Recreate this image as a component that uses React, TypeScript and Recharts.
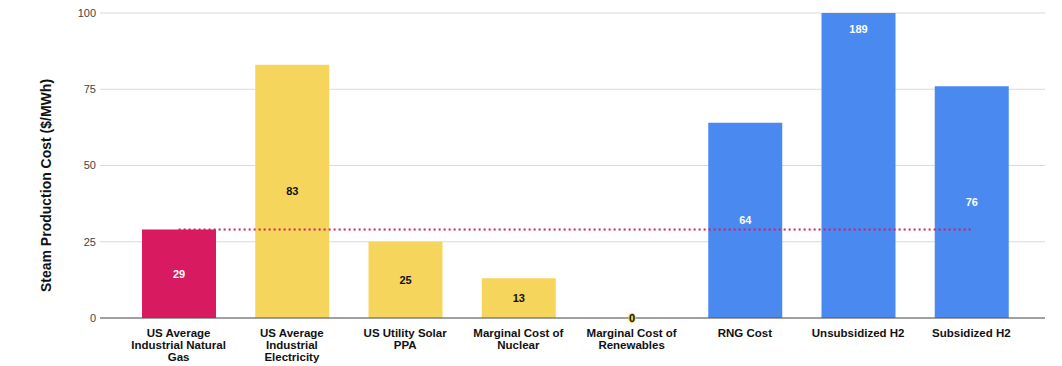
import React from 'react';
import {
  BarChart,
  Bar,
  XAxis,
  YAxis,
  CartesianGrid,
  ReferenceLine,
  LabelList,
  Cell,
} from 'recharts';

const categories = [
  'US Average Industrial Natural Gas',
  'US Average Industrial Electricity',
  'US Utility Solar PPA',
  'Marginal Cost of Nuclear',
  'Marginal Cost of Renewables',
  'RNG Cost',
  'Unsubsidized H2',
  'Subsidized H2',
];

// wrapped tick text, as laid out in the original
const tickLines = [
  ['US Average', 'Industrial Natural', 'Gas'],
  ['US Average', 'Industrial', 'Electricity'],
  ['US Utility Solar', 'PPA'],
  ['Marginal Cost of', 'Nuclear'],
  ['Marginal Cost of', 'Renewables'],
  ['RNG Cost'],
  ['Unsubsidized H2'],
  ['Subsidized H2'],
];

const costs = [29, 83, 25, 13, 0, 64, 189, 76];
const barColors = ['#d81b60', '#f6d55c', '#f6d55c', '#f6d55c', '#f6d55c', '#4a89f0', '#4a89f0', '#4a89f0'];
const labelColors = ['#fff', '#111', '#111', '#111', '#111', '#fff', '#fff', '#fff'];

const yTicks = [0, 25, 50, 75, 100];
const yMax = 100;
const naturalGasLevel = 29;

const data = categories.map((name, i) => ({
  name,
  cost: costs[i],
  shown: Math.min(costs[i], yMax),
}));

const FONT = 'Arial, "Liberation Sans", Helvetica, sans-serif';

const CategoryTick = (props: any) => {
  const { x, y, index } = props;
  const lines = tickLines[index] || [];
  return (
    <text x={x} y={y + 11} textAnchor="middle" fontFamily={FONT} fontSize={11.5} fontWeight="bold" fill="#111">
      {lines.map((l, i) => (
        <tspan key={i} x={x} dy={i === 0 ? 0 : 12}>
          {l}
        </tspan>
      ))}
    </text>
  );
};

const ValueLabel = (props: any) => {
  const { x, y, width, height, value } = props;
  const idx = costs.indexOf(Number(value));
  const overflow = costs[idx] > yMax;
  const cx = x + width / 2;
  const cy = overflow ? y + 16 : y + height / 2;
  const isZero = costs[idx] === 0;
  return (
    <text
      x={cx}
      y={cy}
      dy={4}
      textAnchor="middle"
      fontFamily={FONT}
      fontSize={11}
      fontWeight="bold"
      fill={labelColors[idx]}
      stroke={isZero ? barColors[idx] : 'none'}
      strokeWidth={isZero ? 2 : 0}
      paintOrder="stroke"
    >
      {value}
    </text>
  );
};

const AxisTitle = (props: any) => {
  const { viewBox } = props;
  const x = viewBox.x + 51;
  const y = viewBox.y + viewBox.height / 2 + 20;
  return (
    <text
      x={x}
      y={y}
      transform={`rotate(-90, ${x}, ${y})`}
      textAnchor="middle"
      fontFamily={FONT}
      fontSize={14}
      fontWeight="bold"
      fill="#111"
    >
      Steam Production Cost ($/MWh)
    </text>
  );
};

export default function App() {
  return (
    <div style={{ position: 'absolute', left: 0, top: 0, background: '#fff', width: 1062, height: 366 }}>
      <BarChart width={1062} height={366} data={data} margin={{ top: 13, right: 17, left: 0, bottom: 0 }}>
        <CartesianGrid vertical={false} stroke="#d9d9d9" />
        <XAxis
          dataKey="name"
          height={48}
          interval={0}
          tickLine={false}
          axisLine={{ stroke: '#555' }}
          padding={{ left: 22, right: 17 }}
          tick={<CategoryTick />}
        />
        <YAxis
          width={100}
          domain={[0, yMax]}
          ticks={yTicks}
          tickLine={false}
          tickSize={0}
          tickMargin={4}
          axisLine={false}
          tick={{ fontSize: 11, fill: '#444', fontFamily: FONT }}
          label={<AxisTitle />}
        />
        <Bar dataKey="shown" barSize={74} minPointSize={0.01} isAnimationActive={false}>
          {data.map((d, i) => (
            <Cell key={d.name} fill={barColors[i]} />
          ))}
          <LabelList dataKey="cost" content={<ValueLabel />} />
        </Bar>
        <ReferenceLine
          segment={[
            { x: categories[0], y: naturalGasLevel },
            { x: categories[categories.length - 1], y: naturalGasLevel },
          ]}
          stroke="#d81b60"
          strokeWidth={2}
          strokeDasharray="2 3"
        />
      </BarChart>
    </div>
  );
}
